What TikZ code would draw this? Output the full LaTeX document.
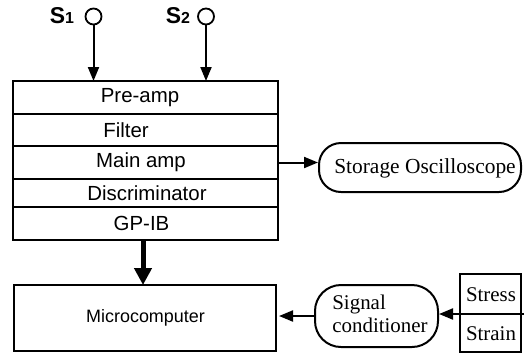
\documentclass[tikz,border=0pt]{standalone}
\usepackage{fontspec}
\setmainfont{Liberation Serif}
\newfontfamily\sansf{Liberation Sans}
\usetikzlibrary{arrows.meta}
\tikzset{
  rowbox/.style={draw, line width=2bp, minimum width=265bp, inner sep=0pt, outer sep=0pt},
  slabel/.style={font=\sansf\fontsize{20.5}{20.5}\selectfont, inner sep=0pt},
  serifl/.style={font=\fontsize{21}{22}\selectfont, inner sep=0pt, align=left},
  thinarr/.style={line width=2bp, -{Triangle[length=14bp,width=11bp]}},
  thickarr/.style={line width=5bp, -{Triangle[length=17bp,width=17bp]}},
  pill/.style={draw, line width=2bp, rounded corners=22bp, inner sep=0pt},
  plainbox/.style={draw, line width=2.2bp, inner sep=0pt, outer sep=0pt},
  src/.style={draw, line width=1.8bp, circle, minimum size=16bp, inner sep=0pt},
  slab/.style={font=\sansf\bfseries\fontsize{23}{23}\selectfont, inner sep=0pt}
}
\begin{document}
\begin{tikzpicture}[x=1bp,y=-1bp]
\useasboundingbox (0,0) rectangle (525,356);
% sources
\node[slab] (s1t) at (62,16) {S\fontsize{16}{16}\selectfont 1};
\node[slab] (s2t) at (178,16) {S\fontsize{16}{16}\selectfont 2};
\node[src] (c1) at (93.5,16.5) {};
\node[src] (c2) at (206,16.5) {};
% stack
\node[rowbox, minimum height=33bp] (preamp) at (145.5,97.5) {};
\node[rowbox, minimum height=32bp] (filter) at (145.5,130) {};
\node[rowbox, minimum height=33bp] (mainamp) at (145.5,162.5) {};
\node[rowbox, minimum height=28bp] (disc) at (145.5,193) {};
\node[rowbox, minimum height=33bp] (gpib) at (145.5,223.5) {};
\node[slabel] (lpre) at (140,97.5) {Pre-amp};
\node[slabel] (lfil) at (126,130) {Filter};
\node[slabel] (lmain) at (141,162.5) {Main amp};
\node[slabel] (ldisc) at (147,193) {Discriminator};
\node[slabel] (lgp) at (141.5,223.5) {GP-IB};
% oscilloscope
\node[pill, minimum width=202bp, minimum height=49bp] (osc) at (420,167.5) {};
\node[serifl, font=\fontsize{21.5}{22}\selectfont] (losc) at (425,168) {Storage Oscilloscope};
% microcomputer
\node[plainbox, minimum width=262bp, minimum height=66bp] (micro) at (145,318) {};
\node[font=\sansf\fontsize{18}{18}\selectfont, inner sep=0pt] (lmicro) at (145.5,318) {Microcomputer};
% signal conditioner
\node[pill, rounded corners=26bp, minimum width=123bp, minimum height=62bp] (cond) at (376.5,316) {};
\node[serifl, font=\fontsize{21}{23}\selectfont] (lcond) at (380,314) {Signal\\conditioner};
% stress / strain
\node[plainbox, minimum width=61bp, minimum height=40bp] (stress) at (490.5,294) {};
\node[plainbox, minimum width=61bp, minimum height=38bp] (strain) at (490.5,333) {};
\node[serifl] (lstress) at (491,295) {Stress};
\node[serifl] (lstrain) at (491,334) {Strain};
\coordinate (sr) at (524,314);
% connectors
\draw[thinarr] (c1.south) -- (c1.south |- preamp.north);
\draw[thinarr] (c2.south) -- (c2.south |- preamp.north);
\draw[thinarr] (mainamp.east) -- (mainamp.east -| osc.west);
\coordinate (ta) at (143,240);
\draw[thickarr] (ta) -- (ta |- micro.north);
\draw[thinarr] (sr) -- (sr -| cond.east);
\draw[thinarr, shorten >=3bp] (cond.west) -- (cond.west -| micro.east);
\end{tikzpicture}
\end{document}
